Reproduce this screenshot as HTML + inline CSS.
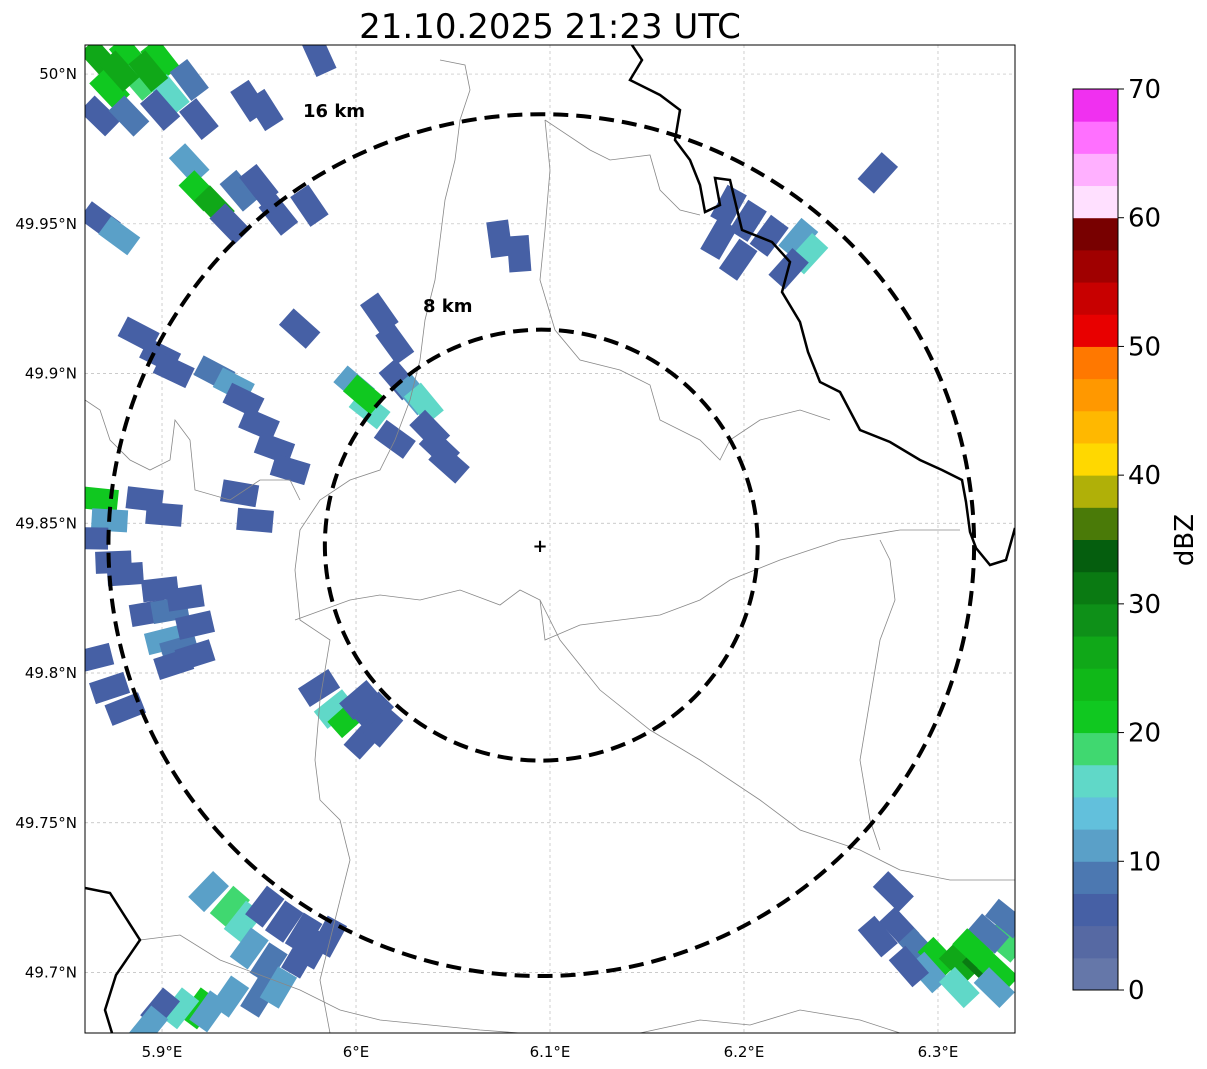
<!DOCTYPE html>
<html><head><meta charset="utf-8">
<style>
html,body{margin:0;padding:0;background:#fff;}
body{width:1207px;height:1069px;overflow:hidden;font-family:"DejaVu Sans","Liberation Sans",sans-serif;}
svg text{font-family:"DejaVu Sans","Liberation Sans",sans-serif;}
</style></head>
<body>
<svg id="chart" width="1207" height="1069" xmlns="http://www.w3.org/2000/svg" style="position:absolute;left:0;top:0">
<defs><clipPath id="mapclip"><rect x="85" y="45" width="930" height="988"/></clipPath></defs>
<text x="550" y="38" font-size="34" text-anchor="middle" fill="#000">21.10.2025 21:23 UTC</text>
<g id="grid"></g>
<g id="cells" clip-path="url(#mapclip)"></g>
<g clip-path="url(#mapclip)" fill="none" stroke="#888" stroke-width="0.8">
<polyline points="295,620 350,600 380,595 420,600 460,590 500,605 520,590 540,600 545,640 580,625 620,620 660,615 700,600 730,580 780,560 840,540 900,530 960,530"/>
<polyline points="440,60 465,65 470,90 460,120 455,160 445,200 440,240 435,280 425,320 420,360 410,400 395,440 380,470 350,480 320,500 300,530 295,570 300,620 330,640 320,700 315,760 320,800 340,820 350,860 340,900 330,940 320,980 330,1033"/>
<polyline points="545,120 550,170 545,230 540,280 555,330 580,360 620,370 650,385 660,420 700,440 720,460 730,440 760,420 800,410 830,420"/>
<polyline points="545,120 590,150 610,160 650,155 660,190 680,210 700,215"/>
<polyline points="85,400 100,410 110,440 130,460 150,470 170,460 175,420 190,440 195,490 230,500 260,480 290,480 300,500"/>
<polyline points="540,600 560,640 600,690 650,730 700,760 760,800 800,830 860,850 900,870 950,880 1015,880"/>
<polyline points="140,940 180,935 220,960 260,975 300,990 340,1010 380,1020 430,1025 480,1030 520,1033"/>
<polyline points="640,1033 700,1020 750,1025 800,1010 860,1020 900,1033"/>
<polyline points="880,540 890,560 895,600 880,640 870,700 860,760 870,820 880,850"/>
</g>
<g clip-path="url(#mapclip)" fill="none" stroke="#000" stroke-width="2.5">
<polyline points="632,45 642,60 630,80 660,95 680,110 675,140 690,160 700,185 705,212 720,205 715,178 730,180 742,230 772,242 790,262 782,292 800,322 808,352 820,382 840,392 860,430 890,442 920,460 942,470 962,480 966,502 970,532 976,548 990,565 1006,560 1015,528"/>
<polyline points="85,888 110,893 140,940 116,975 105,1010 112,1033"/>
</g>
<g id="rings"></g>
<text x="303" y="117" font-size="18" font-weight="bold">16 km</text>
<text x="423" y="312" font-size="18" font-weight="bold">8 km</text>
<text x="540" y="552" font-size="18" font-weight="bold" text-anchor="middle">+</text>
<rect x="85" y="45" width="930" height="988" fill="none" stroke="#000" stroke-width="1"/>
<g id="axes"></g>
<g id="cbar"></g>
<text x="1193" y="540" font-size="26" text-anchor="middle" transform="rotate(-90 1193 540)">dBZ</text>
</svg>
<script>
const lonTicks=[5.9,6.0,6.1,6.2,6.3];
const lonTickLabels=["5.9°E","6°E","6.1°E","6.2°E","6.3°E"];
const latTicks=[50.0,49.95,49.9,49.85,49.8,49.75,49.7];
const latTickLabels=["50°N","49.95°N","49.9°N","49.85°N","49.8°N","49.75°N","49.7°N"];
const cbarTicks=[0,10,20,30,40,50,60,70];
const cbarColors=["#6577a9","#5669a3","#4660a5","#4c78b1","#5aa0c8","#62c0dc","#60d8c8","#40d870","#10c820","#10b818","#10a818","#0e9018","#0a7a12","#055e0e","#4a7a08","#b0b008","#ffd800","#ffb800","#ff9800","#ff7800","#e80000","#c80000","#a00000","#780000","#ffe0ff","#ffb0ff","#ff70ff","#f030f0"];
const radarSite=[6.0955,49.8427];
const ringKm=[8,16];
const cellLon=[5.868,5.883,5.899,5.873,5.888,5.904,5.914,5.868,5.883,5.899,5.919,5.893,5.878,
5.914,5.919,5.927,5.940,5.950,5.960,5.935,5.976,5.945,5.953,5.981,
5.868,5.878,6.074,6.084,
6.192,6.202,6.213,6.228,6.233,6.197,6.223,6.187,6.269,
5.888,5.899,5.906,
5.927,5.937,5.942,5.950,5.958,5.966,5.971,5.940,5.948,
6.012,6.020,5.999,6.007,6.022,6.030,6.035,6.038,6.043,6.048,6.020,6.004,
5.868,5.873,5.863,5.875,5.891,5.901,5.881,5.899,
5.893,5.904,5.912,5.901,5.909,5.917,5.906,5.917,
5.865,5.873,5.881,
5.981,5.989,5.996,6.002,6.009,6.004,6.014,
5.924,5.935,5.942,5.953,5.963,5.973,5.986,5.945,5.955,5.935,5.919,5.909,5.924,5.899,5.893,5.950,5.960,5.971,5.978,
6.277,6.269,6.280,6.290,6.300,6.311,6.323,6.331,6.334,6.326,6.295,6.311,6.329,6.335,6.285,6.318];
const cellLat=[50.005,50.006,50.005,49.995,49.998,49.993,49.998,49.986,49.986,49.988,49.985,50.001,50.001,
49.970,49.961,49.956,49.961,49.963,49.953,49.950,49.956,49.991,49.988,50.006,
49.951,49.946,49.945,49.940,
49.956,49.951,49.946,49.945,49.940,49.938,49.935,49.945,49.967,
49.913,49.906,49.901,
49.900,49.896,49.891,49.883,49.875,49.868,49.915,49.860,49.851,
49.920,49.910,49.896,49.888,49.898,49.893,49.890,49.881,49.875,49.870,49.878,49.893,
49.858,49.851,49.845,49.837,49.858,49.853,49.833,49.828,
49.820,49.821,49.825,49.811,49.808,49.816,49.803,49.806,
49.805,49.795,49.788,
49.795,49.788,49.785,49.791,49.787,49.778,49.782,
49.727,49.722,49.717,49.722,49.717,49.713,49.712,49.708,49.703,49.692,49.688,49.688,49.687,49.688,49.682,49.692,49.695,49.705,49.708,
49.727,49.712,49.715,49.708,49.705,49.703,49.702,49.700,49.710,49.713,49.700,49.695,49.695,49.718,49.702,49.708];
const cellDbz=[25,22,20,22,18,15,8,5,8,5,5,27,25,
12,20,25,8,5,5,5,5,5,5,5,
5,10,5,5,
5,5,5,12,15,5,5,5,5,
5,5,5,
8,12,5,5,5,5,5,5,5,
5,5,12,15,5,12,15,5,5,5,5,20,
20,10,5,5,5,5,5,5,
5,8,5,10,8,5,5,5,
5,5,5,
5,15,20,5,5,5,5,
10,18,15,5,5,5,5,12,8,10,20,15,12,5,10,8,10,5,5,
5,5,5,8,20,25,30,22,18,8,12,15,12,8,5,22];

const NS="http://www.w3.org/2000/svg";
const X0=85,X1=1015,Y0=45,Y1=1033,LON0=5.8603,LON1=6.3397,LAT0=49.6798,LAT1=50.0097;
function xs(lon){return X0+(lon-LON0)/(LON1-LON0)*(X1-X0);}
function ys(lat){return Y0+(LAT1-lat)/(LAT1-LAT0)*(Y1-Y0);}
function mk(tag,attrs,parent){const e=document.createElementNS(NS,tag);for(const k in attrs)e.setAttribute(k,attrs[k]);parent.appendChild(e);return e;}
function colorFor(v){let i=Math.floor(v/2.5);if(i<0)i=0;if(i>27)i=27;return cbarColors[i];}

const grid=document.getElementById('grid');
lonTicks.forEach(t=>{const l=mk('line',{x1:xs(t),x2:xs(t),y1:Y0,y2:Y1,stroke:'#bbb','stroke-width':0.7,'stroke-dasharray':'3,3'},grid);

});
latTicks.forEach(t=>{const l=mk('line',{x1:X0,x2:X1,y1:ys(t),y2:ys(t),stroke:'#bbb','stroke-width':0.7,'stroke-dasharray':'3,3'},grid);

});

const cx=xs(radarSite[0]),cy=ys(radarSite[1]);
const cells=document.getElementById('cells');
for(let i=0;i<cellLon.length;i++){
  const x=xs(cellLon[i]),y=ys(cellLat[i]);
  const ang=Math.atan2(y-cy,x-cx)*180/Math.PI;
  const r=mk('rect',{x:x-18,y:y-11,width:36,height:22,fill:colorFor(cellDbz[i]),transform:`rotate(${ang.toFixed(1)} ${x.toFixed(1)} ${y.toFixed(1)})`},cells);
  
  
}
const rings=document.getElementById('rings');
ringKm.forEach(km=>{
  const ry=km/111.2/(LAT1-LAT0)*(Y1-Y0);
  const rx=km/(111.2*Math.cos(radarSite[1]*Math.PI/180))/(LON1-LON0)*(X1-X0);
  const c=mk('ellipse',{cx:cx,cy:cy,rx:rx,ry:ry,fill:'none',stroke:'#000','stroke-width':4,'stroke-dasharray':'15,8'},rings);
  
  
});
const axes=document.getElementById('axes');
lonTicks.forEach((t,i)=>{const tx=mk('text',{x:xs(t),y:1057,'font-size':15,'text-anchor':'middle'},axes);tx.textContent=lonTickLabels[i];

});
latTicks.forEach((t,i)=>{const tx=mk('text',{x:77,y:ys(t)+5,'font-size':15,'text-anchor':'end'},axes);tx.textContent=latTickLabels[i];

});
const cb=document.getElementById('cbar');
const CB0=89,CB1=990,CBX=1073,CBW=45;
function cys(v){return CB1-(v/70)*(CB1-CB0);}
cbarColors.forEach((c,i)=>{const r=mk('rect',{x:CBX,y:cys((i+1)*2.5),width:CBW,height:cys(i*2.5)-cys((i+1)*2.5)+0.5,fill:c},cb);

});
const fr=mk('rect',{x:CBX,y:CB0,width:CBW,height:CB1-CB0,fill:'none',stroke:'#000','stroke-width':1},cb);


cbarTicks.forEach(t=>{mk('line',{x1:CBX+CBW,x2:CBX+CBW+6,y1:cys(t),y2:cys(t),stroke:'#000'},cb);
const tx=mk('text',{x:1128,y:cys(t)+9,'font-size':26},cb);tx.textContent=t;

});
</script>
</body></html>
